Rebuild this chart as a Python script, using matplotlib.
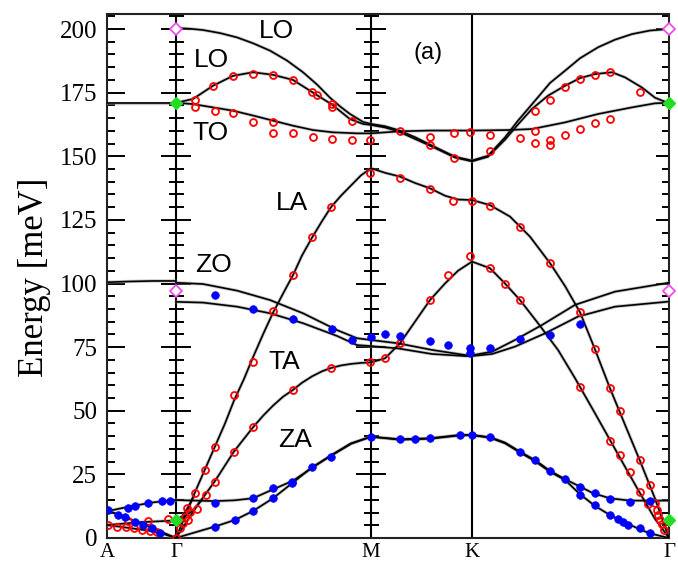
import numpy as np
import matplotlib
matplotlib.use('Agg')
import matplotlib.pyplot as plt

# ---- high-symmetry path -------------------------------------------------
K_POS = [107, 176, 371, 472, 669]
K_LABELS = ['A', 'Γ', 'M', 'K', 'Γ']

# ---- calculated dispersion branches (path coordinate, energy meV) --------
AG_TO_X = [107, 176]
AG_TO_E = [171, 171]
AG_ZO_X = [107, 130, 153, 176]
AG_ZO_E = [100.5, 100.8, 101.0, 101.0]
AG_B1_X = [107, 130, 153, 176]
AG_B1_E = [10.5, 12.4, 14.0, 14.9]
AG_B2_X = [107, 120, 135, 150, 165, 176]
AG_B2_E = [10.8, 9.0, 6.6, 4.3, 1.8, 0]
AG_R1_X = [107, 140, 176]
AG_R1_E = [5.1, 6.2, 6.9]
AG_R2_X = [107, 130, 150, 165, 176]
AG_R2_E = [5.1, 3.9, 2.8, 1.4, 0]

LO1_X = [176, 190, 203, 220, 237, 253, 270, 287, 303, 317, 330, 340, 350, 363, 371,
         385, 398, 415, 432, 455, 472, 488, 505, 518, 538, 550, 565, 580, 598, 615,
         632, 650, 669]
LO1_E = [200.4, 200.1, 199.6, 198.4, 196.7, 194.4, 191.5, 187.6, 183, 178.2, 173,
         169.6, 166.6, 163.5, 162.7, 161.8, 160.3, 157.5, 154.2, 149.8, 148.3, 150.2,
         157.4, 164, 173.2, 178.8, 183.6, 188.5, 192.8, 195.8, 198, 199.4, 200]

LO2_X = [176, 193, 213, 233, 253, 273, 293, 313, 332, 350, 363, 371, 385, 398, 415,
         432, 455, 472, 488, 505, 518, 532, 548, 565, 580, 595, 612, 625, 642, 655, 669]
LO2_E = [171, 172.5, 177.7, 181.6, 183, 182, 180, 175, 170.3, 164.6, 162.7, 162.3,
         161.3, 159.8, 156.8, 153.8, 149.5, 148, 149.8, 156.5, 162.5, 168.6, 173.8,
         177.7, 180.7, 182.3, 183, 181, 177, 173, 170.8]

TO_X = [176, 193, 213, 233, 253, 273, 293, 313, 333, 357, 371, 400, 430, 472, 508,
        532, 565, 598, 632, 655, 669]
TO_E = [171, 170.5, 169.2, 167.9, 166, 164, 162, 160.3, 159.4, 159, 159, 159.8, 160.1,
        160.1, 160.3, 160.7, 163.3, 166.6, 169.2, 170.8, 171]

LA_X = [176, 186, 195, 205, 215, 225, 234, 244, 253, 263, 273, 283, 293, 302, 312,
        322, 331, 341, 351, 361, 371, 385, 400, 415, 430, 445, 458, 472, 490, 510,
        530, 550, 565, 580, 595, 610, 625, 640, 655, 669]
LA_E = [0, 9.5, 18, 27, 36, 45, 54, 62.5, 71, 80, 88.5, 96, 103.3, 111, 118, 124.5,
        130, 134.5, 138.5, 142.5, 145.3, 143.5, 142, 139.5, 137.4, 134.5, 133, 132.8,
        130.8, 126.3, 118.4, 108, 99, 88.7, 74.1, 58.8, 44.5, 30.3, 15.5, 0]

TA_X = [176, 186, 196, 206, 215, 225, 234, 244, 253, 263, 273, 283, 293, 302, 312,
        322, 331, 341, 351, 361, 371, 385, 400, 415, 430, 445, 458, 472, 490, 505,
        520, 538, 558, 575, 595, 610, 625, 640, 655, 669]
TA_E = [0, 6, 12, 17.5, 22.4, 28.5, 34, 39, 43.5, 48, 52, 55.5, 58.2, 61, 63.5, 65.5,
        66.8, 67.8, 68.4, 68.8, 69, 70.6, 76.5, 85, 93.5, 100, 105, 108.6, 106, 100,
        93.5, 84.4, 73.9, 62.8, 49, 38.5, 28, 17.6, 7.5, 0]

ZO1_X = [176, 203, 237, 270, 303, 337, 357, 371, 398, 432, 465, 472, 492, 515, 542,
         575, 615, 669]
ZO1_E = [100.3, 99.8, 97.2, 93.5, 88.3, 81.7, 78.5, 77.8, 76.5, 73.9, 71.9, 71.8,
         73.2, 77.8, 83.7, 91.6, 96.8, 100.3]
ZO2_X = [176, 203, 237, 270, 303, 337, 357, 371, 398, 432, 465, 472, 492, 515, 545,
         578, 615, 669]
ZO2_E = [92.8, 92.5, 90.9, 88.3, 84.4, 79.4, 75.8, 75.4, 74.5, 72.3, 71.5, 71.5, 72.3,
         75.2, 80.4, 87, 90.9, 92.9]

ZOP_X = [176, 195, 215, 234, 253, 273, 293, 312, 331, 351, 371, 400, 430, 460, 472,
         490, 505, 520, 535, 550, 565, 580, 593, 610, 630, 650, 669]
ZOP_E = [14.9, 14.7, 14.5, 14.8, 15.6, 19.1, 22.5, 27.5, 32.5, 37.2, 39.8, 38.8, 39.2,
         40.5, 40.5, 39.6, 37.5, 33.9, 30.6, 26.4, 23.1, 20.2, 17.6, 15.6, 14.7, 14.7,
         14.7]
ZA_X = [176, 195, 215, 235, 253, 273, 293, 312, 331, 351, 371, 400, 430, 460, 472,
        490, 505, 520, 535, 550, 565, 580, 595, 610, 623, 640, 650, 669]
ZA_E = [0, 2.2, 4.5, 7.1, 10.6, 15.6, 21.8, 27.8, 32.3, 37, 39.8, 38.6, 39, 40.3, 40.4,
        39.4, 37.2, 33.6, 30.2, 26, 22.8, 17.2, 12.6, 9, 6.4, 3.4, 1.8, 0]

F1_X = [176, 182, 188, 194]
F1_E = [6.9, 8.5, 12, 16.5]
F2_X = [176, 185, 193, 202]
F2_E = [6.9, 8.5, 10.8, 15.2]

BRANCHES = [
    (AG_TO_X, AG_TO_E), (AG_ZO_X, AG_ZO_E), (AG_B1_X, AG_B1_E), (AG_B2_X, AG_B2_E),
    (AG_R1_X, AG_R1_E), (AG_R2_X, AG_R2_E), (LO1_X, LO1_E), (LO2_X, LO2_E),
    (TO_X, TO_E), (LA_X, LA_E), (TA_X, TA_E), (ZO1_X, ZO1_E), (ZO2_X, ZO2_E),
    (ZOP_X, ZOP_E), (ZA_X, ZA_E), (F1_X, F1_E), (F2_X, F2_E),
]

# ---- experimental points: red open circles ------------------------------
RED_X = [108.3, 116.7, 126, 134, 141.7, 150, 156.7, 128.3, 148.3, 168.3,
         176, 180, 183.3, 185, 188.3, 186.7, 190, 195, 196.7, 205, 206, 215, 215,
         234.3, 234.3, 253.3, 253.3, 272.7, 292.7, 292.7, 311.7, 331, 331, 370,
         385, 400, 430, 448.3, 470, 490, 505, 520,
         370, 400, 430, 453.3, 471.7, 490, 520, 550,
         580, 595, 580, 610, 620, 610, 620, 630, 640, 640, 650, 648.3, 655, 656.7,
         658.3, 660, 662, 664,
         195, 195, 213.3, 215, 233.3, 233.3, 253.3, 253.3, 273.3, 273.3, 273.3,
         292.7, 293.3, 311.7, 316.7, 312.7, 331.7, 331.7, 331.7, 351.7, 351.7, 370,
         400, 430, 430, 454.3, 454.3, 470, 490, 490, 520, 535, 535, 550, 550, 565,
         580, 595, 610, 535, 550, 565, 580, 595, 610, 640]
RED_E = [5.1, 4.4, 4.2, 3.8, 3.1, 2.9, 2.2, 6.8, 6.8, 7.3,
         0, 3.8, 5.8, 8.4, 7.1, 11.7, 10.3, 17.8, 11.3, 26.7, 16.9, 35.9, 22.1,
         56.2, 33.9, 69, 43.5, 89.2, 58.2, 103.3, 118.4, 129.9, 66.7, 69.3,
         70.9, 76.5, 93.5, 103.3, 110.8, 106, 99.8, 93.5,
         143.3, 141.3, 137.1, 132.4, 132.4, 130.4, 122.3, 107.9,
         88.7, 74.1, 59.2, 58.8, 50, 38.2, 32.6, 25.8, 30.6, 18.2, 20.8, 13.2, 13.6, 11,
         9, 7.1, 5.5, 3,
         172, 169.5, 177.7, 167.7, 181.6, 166.9, 182.3, 163.6, 181.8, 163.3, 159.1,
         180.1, 159, 175.1, 174, 157.7, 170.5, 169.5, 156.7, 164, 156.4, 156.5,
         159.8, 157.7, 154.4, 159, 149.2, 159.4, 158.5, 152.2, 157, 159.8, 155.1, 156.4,
         154.4, 158.3, 160.7, 162.9, 164.6, 167.6, 172.1, 177.1, 180.4, 181.9, 183, 175.1]

# ---- experimental points: blue filled dots -------------------------------
BLUE_X = [108.3, 118.3, 125, 135, 142.7, 151.7, 160, 128.3, 135, 148.3, 161.7, 170,
          215, 253.3, 272.7, 291.7, 215, 235, 253.3, 273.3, 291.7, 311.7, 331, 371.3,
          400, 415, 430, 460, 471.7, 490,
          520, 535, 550, 565, 580, 580, 595, 595, 610, 610, 618.3, 623.3, 628.3, 630,
          640, 650, 650,
          215, 253.3, 292.7, 331.7, 351.7, 371.3, 385, 400, 430, 448.3, 470, 470, 490,
          520, 550, 580]
BLUE_E = [11, 9, 8.1, 6.4, 5.1, 3.8, 1.8, 11.9, 12.6, 13.9, 14.5, 14.7,
          13.9, 15.6, 19.5, 22.1, 4.5, 7.1, 10.6, 15.6, 21.5, 28, 32, 39.8,
          38.8, 38.8, 39.2, 40.5, 40.5, 39.6,
          33.9, 30.6, 26.4, 23.1, 19.9, 16.9, 17.6, 13, 15.3, 9, 7.3, 6.4, 5.1, 14,
          3.8, 2.1, 14.5,
          95.5, 90, 86, 82, 77.8, 79.1, 80.2, 79.5, 77.4, 75.8, 74.5, 72.8, 74.8,
          78.1, 79.8, 84]

# ---- optical (Raman / IR) values at Gamma --------------------------------
GREEN_X = [176, 176, 669, 669]
GREEN_E = [171, 7, 171, 7]
MAG_X = [176, 176, 669, 669]
MAG_E = [200, 97.2, 200, 97.2]

# ---- branch labels -------------------------------------------------------
LABELS = [('LO', 276, 199.2), ('LO', 211, 187.8), ('TO', 210, 159.1), ('LA', 292, 131.6),
          ('ZO', 213, 107.2), ('TA', 284, 69.2), ('ZA', 295, 38.5)]

MAJOR = np.arange(0, 201, 25)
MINOR = np.array([v for v in range(0, 206, 5) if v % 25 != 0])

fig = plt.figure(figsize=(6.78, 5.67), dpi=100)
ax = fig.add_axes([107 / 678, 29 / 567, 562 / 678, 524 / 567])
ax.set_xlim(K_POS[0], K_POS[-1])
ax.set_ylim(0, 524 / 2.545)

for xv in K_POS[1:4]:
    ax.axvline(xv, color='black', lw=1.5, zorder=2)

for bx, be in BRANCHES:
    ax.plot(bx, be, color='0.55', lw=2.4, alpha=0.5, zorder=3, solid_capstyle='round')
    ax.plot(bx, be, color='black', lw=1.2, zorder=4, solid_capstyle='round')

ax.plot(RED_X, RED_E, ls='none', marker='o', ms=5, mfc='none', mec='red', mew=1.3, zorder=5)
ax.plot(BLUE_X, BLUE_E, ls='none', marker='o', ms=5.5, mfc='blue', mec='blue', mew=0.5, zorder=5)
ax.plot(GREEN_X, GREEN_E, ls='none', marker='D', ms=6, mfc='#22dd22', mec='#22dd22', zorder=6, clip_on=False)
ax.plot(MAG_X, MAG_E, ls='none', marker='D', ms=6, mfc='white', mec='#ee44ee', mew=1.2, zorder=6, clip_on=False)

# crossing ticks on the Gamma and M lines
for xv in (K_POS[1], K_POS[2]):
    ax.plot([xv] * len(MAJOR), MAJOR, ls='none', marker='_', ms=21.6, mew=1.4, color='black', zorder=2, clip_on=False)
    ax.plot([xv] * len(MINOR), MINOR, ls='none', marker='_', ms=10.8, mew=1.4, color='black', zorder=2)
# inward ticks on the right edge
ax.plot([K_POS[-1]] * len(MAJOR), MAJOR, ls='none', marker=0, ms=9.5, mew=1.4, color='black', zorder=2, clip_on=False)
ax.plot([K_POS[-1]] * len(MINOR), MINOR, ls='none', marker=0, ms=5, mew=1.4, color='black', zorder=2)

for s in ax.spines.values():
    s.set_linewidth(1.5)
    s.set_color('#222222')

ax.set_yticks(MAJOR)
ax.set_yticks(MINOR, minor=True)
ax.tick_params(axis='y', which='major', direction='in', length=13, width=1.4, pad=7,
               labelsize=18, right=False)
ax.tick_params(axis='y', which='minor', direction='in', length=6, width=1.4, right=False)
for lab in ax.get_yticklabels():
    lab.set_family('Liberation Serif')

ax.set_xticks(K_POS)
ax.set_xticklabels(K_LABELS, family='Liberation Serif', fontsize=15)
ax.tick_params(axis='x', which='both', length=0, pad=3.5)

ax.set_ylabel('Energy [meV]', family='Liberation Serif', fontsize=25)
ax.yaxis.set_label_coords(-0.10, 0.497)

for txt, xv, ev in LABELS:
    ax.text(xv, ev, txt, ha='center', va='center', fontsize=19, family='Liberation Sans', zorder=7)
ax.text(428, 190.5, '(a)', ha='center', va='center', fontsize=17, family='Liberation Sans', zorder=7)

fig.savefig('out.png', dpi=100)
